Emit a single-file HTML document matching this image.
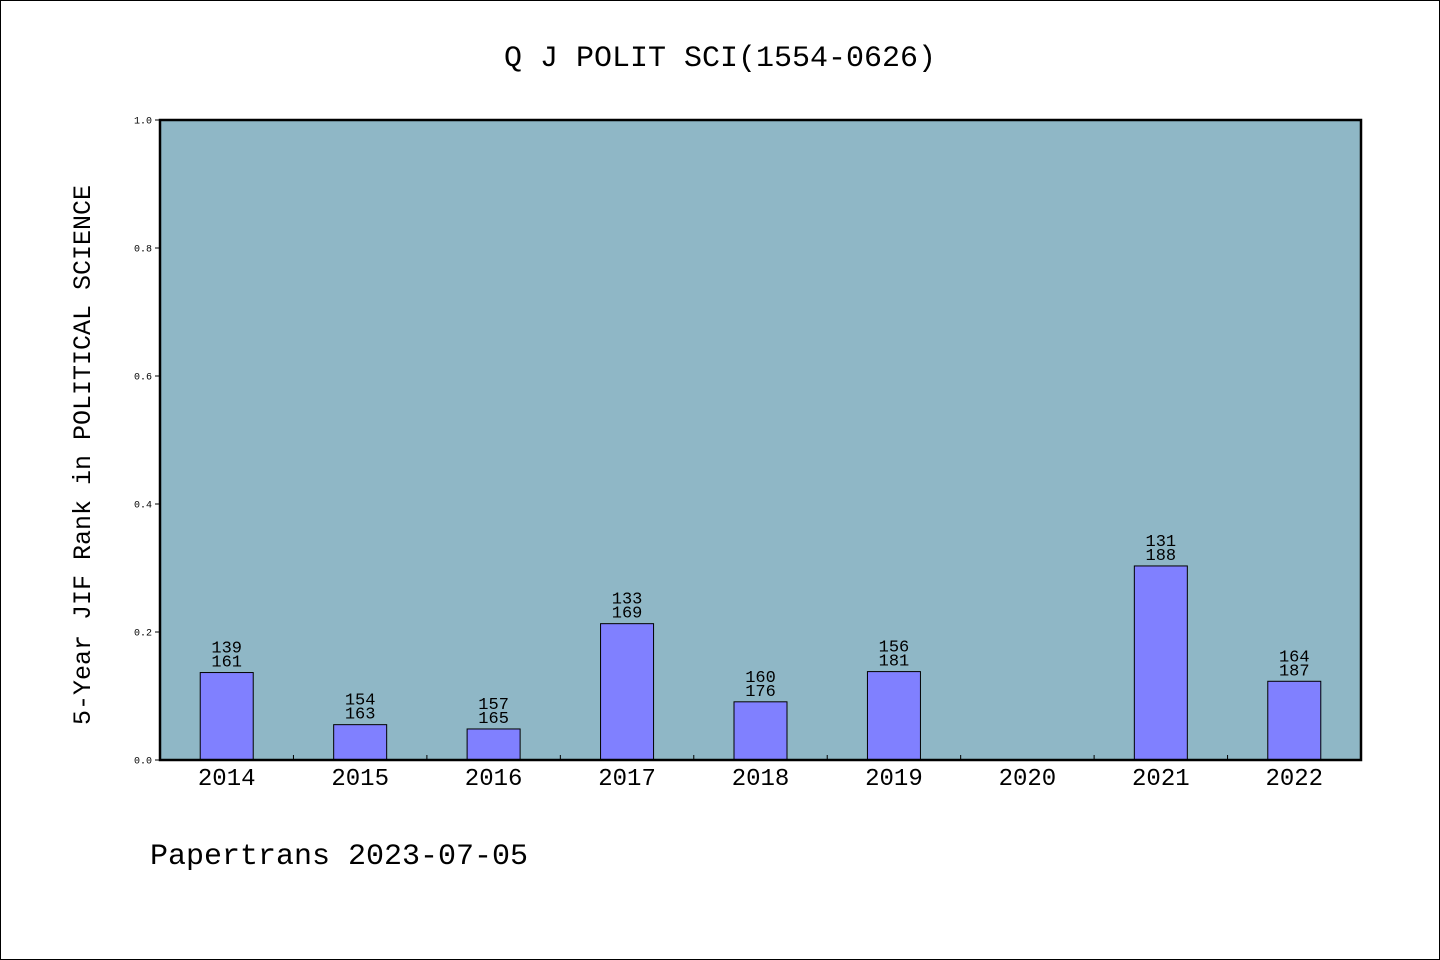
<!DOCTYPE html>
<html><head><meta charset="utf-8">
<style>
html,body{margin:0;padding:0;background:#fff;}
svg{display:block;font-family:"WenQuanYi Zen Hei","Liberation Mono",monospace;}
</style></head>
<body>
<svg id="chart" width="1440" height="960" viewBox="0 0 1440 960" xmlns="http://www.w3.org/2000/svg">
<rect x="0.5" y="0.5" width="1439" height="959" fill="#fff" stroke="#000" stroke-width="1"/>
<text x="720" y="66" font-size="30" text-anchor="middle">Q J POLIT SCI(1554-0626)</text>
<rect x="160" y="120" width="1201" height="640" fill="#8fb7c6"/>
<g id="marks"></g>
<rect x="160" y="120" width="1201" height="640" fill="none" stroke="#000" stroke-width="2.5"/>
<text transform="translate(90,455) rotate(-90)" font-size="25" text-anchor="middle">5-Year JIF Rank in POLITICAL SCIENCE</text>
<text x="150" y="864" font-size="30">Papertrans 2023-07-05</text>
</svg>
<script>
const categories = ["2014","2015","2016","2017","2018","2019","2020","2021","2022"];
const ranks = [139,154,157,133,160,156,null,131,164];
const totals = [161,163,165,169,176,181,null,188,187];
const yTicks = [0,0.2,0.4,0.6,0.8,1.0];
const yTickLabels = ["0.0","0.2","0.4","0.6","0.8","1.0"];

const X0=160, X1=1361, Y0=760, Y1=120;
const band=(X1-X0)/categories.length;
const xPos=i=>X0+band*(i+0.5);
const yPos=v=>Y0-(Y0-Y1)*v;
const NS="http://www.w3.org/2000/svg";
const g=document.getElementById('marks');
function mk(tag,attrs){const e=document.createElementNS(NS,tag);for(const k in attrs)e.setAttribute(k,attrs[k]);g.appendChild(e);return e;}

yTicks.forEach((t,i)=>{
  const l=mk('line',{x1:X0-5,x2:X0,y1:yPos(t),y2:yPos(t),stroke:'#000','stroke-width':1});
  
  
  const tx=mk('text',{x:X0-8,y:yPos(t)+3.5,'font-size':10,'text-anchor':'end'});
  tx.textContent=yTickLabels[i];
  
  
});
for(let i=1;i<categories.length;i++){
  const x=X0+band*i;
  const l=mk('line',{x1:x,x2:x,y1:Y0-5,y2:Y0,stroke:'#000','stroke-width':1});
  
  
}
categories.forEach((c,i)=>{
  const tx=mk('text',{x:xPos(i),y:785,'font-size':24,'text-anchor':'middle'});
  tx.textContent=c;
  
  
  if(ranks[i]==null)return;
  const v=1-ranks[i]/totals[i];
  const bw=53;
  const r=mk('rect',{x:xPos(i)-bw/2,y:yPos(v),width:bw,height:Y0-yPos(v),fill:'#8080ff',stroke:'#000','stroke-width':1});
  
  
  const t1=mk('text',{x:xPos(i),y:yPos(v)-20,'font-size':17,'text-anchor':'middle'});
  t1.textContent=ranks[i];
  
  
  const t2=mk('text',{x:xPos(i),y:yPos(v)-6,'font-size':17,'text-anchor':'middle'});
  t2.textContent=totals[i];
  
  
});
</script>
</body></html>
